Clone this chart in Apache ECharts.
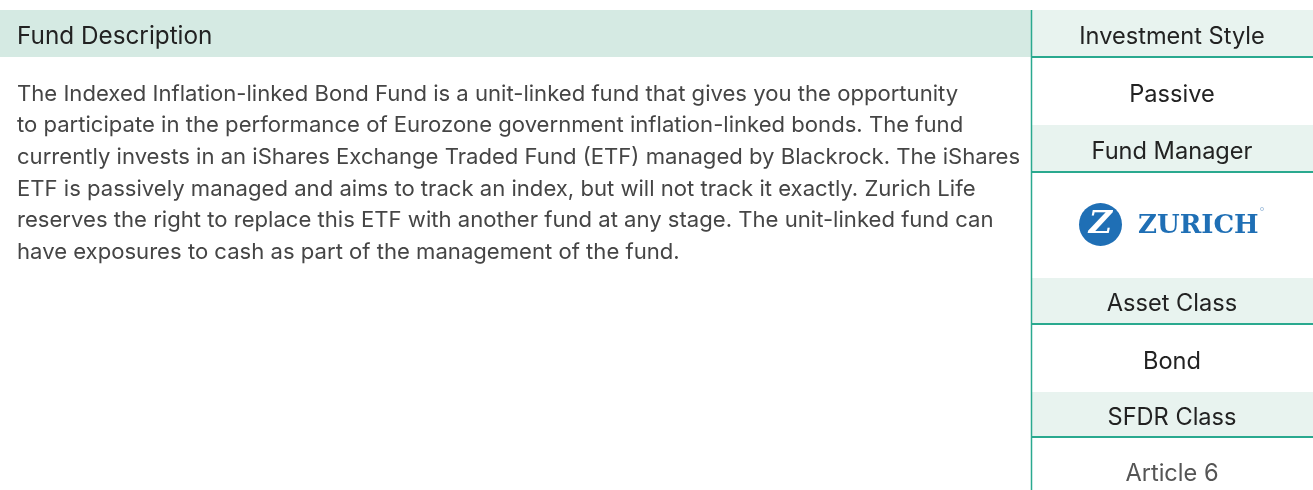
<!DOCTYPE html>
<html><head><meta charset="utf-8">
<script src="https://cdn.jsdelivr.net/npm/echarts@6/dist/echarts.min.js"></script>
<style>html,body{margin:0;padding:0;background:#fff}#c{width:1313px;height:490px}</style>
</head><body><div id="c"></div>
<script>
const sectionTitle = 'Fund Description';
const descriptionLines = [
  'The Indexed Inflation-linked Bond Fund is a unit-linked fund that gives you the opportunity',
  'to participate in the performance of Eurozone government inflation-linked bonds. The fund',
  'currently invests in an iShares Exchange Traded Fund (ETF) managed by Blackrock. The iShares',
  'ETF is passively managed and aims to track an index, but will not track it exactly. Zurich Life',
  'reserves the right to replace this ETF with another fund at any stage. The unit-linked fund can',
  'have exposures to cash as part of the management of the fund.'
];
const panelLabels = ['Investment Style', 'Fund Manager', 'Asset Class', 'SFDR Class'];
const panelValues = ['Passive', 'ZURICH', 'Bond', 'Article 6'];

const FONT = 'Inter';
const chart = echarts.init(document.getElementById('c'));
const els = [];
// left header band
els.push({type:'rect', shape:{x:0,y:10,width:1031,height:47}, style:{fill:'#d5eae3'}});
els.push({type:'text', style:{x:17,y:37,text:sectionTitle,font:'24.3px '+FONT,fill:'#222',verticalAlign:'middle'}});
descriptionLines.forEach((t,i)=>{
  els.push({type:'text', style:{x:17,y:94+i*31.7,text:t,font:'22.1px '+FONT,fill:'#454545',verticalAlign:'middle'}});
});
// right panel
const bands = [[10,57],[125,172],[278,324],[392,437]];
const valueY = [95,224,362,474];
const cx = 1172;
bands.forEach((b,i)=>{
  els.push({type:'rect', shape:{x:1032,y:b[0],width:281,height:b[1]-b[0]}, style:{fill:'#e8f3ef'}});
  els.push({type:'line', shape:{x1:1032,y1:b[1],x2:1313,y2:b[1]}, style:{stroke:'#2aa98f',lineWidth:2}});
  els.push({type:'text', style:{x:cx,y:(b[0]+b[1])/2+3,text:panelLabels[i],font:'23.6px '+FONT,fill:'#222',align:'center',verticalAlign:'middle'}});
});
panelValues.forEach((v,i)=>{
  if (v === 'ZURICH') {
    els.push({type:'circle', shape:{cx:1100.5,cy:224.5,r:21.5}, style:{fill:'#1f6fb5'}});
    els.push({type:'text', style:{x:1100.5,y:225,text:'Z',font:'italic bold 32px "DejaVu Serif"',fill:'#fff',align:'center',verticalAlign:'middle'}});
    els.push({type:'text', style:{x:1138,y:226,text:v,font:'bold 26px "DejaVu Serif"',fill:'#1f6fb5',verticalAlign:'middle'}});
    els.push({type:'circle', shape:{cx:1262,cy:209,r:1.6}, style:{fill:'none',stroke:'#8fb3d6',lineWidth:0.7}});
  } else {
    els.push({type:'text', style:{x:cx,y:valueY[i],text:v,font:'23.6px '+FONT,fill: i===3?'#555':'#222',align:'center',verticalAlign:'middle'}});
  }
});
// vertical divider
els.push({type:'line', shape:{x1:1031.5,y1:10,x2:1031.5,y2:490}, style:{stroke:'#2aa98f',lineWidth:1.5}});
chart.setOption({animation:false, graphic:{elements:els}});
</script></body></html>
